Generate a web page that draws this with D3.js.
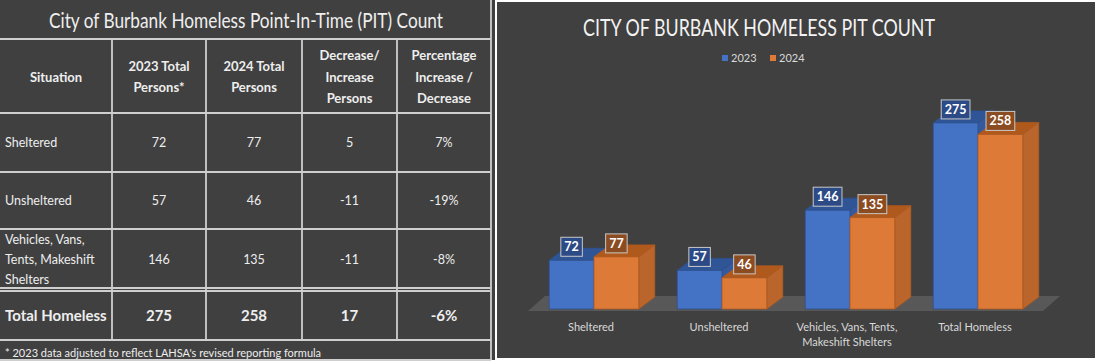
<!DOCTYPE html>
<html>
<head>
<meta charset="utf-8">
<script src="https://cdn.jsdelivr.net/npm/d3@7"></script>
<style>
  body { margin: 0; background: #fff; }
  svg { display: block; font-family: Lato, "Open Sans", sans-serif; }
</style>
</head>
<body>
<svg id="chart" width="1095" height="362"></svg>
<script>
// ---- data ----
var tableTitle = "City of Burbank Homeless Point-In-Time (PIT) Count";
var chartTitle = "CITY OF BURBANK HOMELESS PIT COUNT";
var headers = [["Situation"], ["2023 Total", "Persons*"], ["2024 Total", "Persons"],
               ["Decrease/", "Increase", "Persons"], ["Percentage", "Increase /", "Decrease"]];
var situations = [["Sheltered"], ["Unsheltered"], ["Vehicles, Vans,", "Tents, Makeshift", "Shelters"], ["Total Homeless"]];
var categories = [["Sheltered"], ["Unsheltered"], ["Vehicles, Vans, Tents,", "Makeshift Shelters"], ["Total Homeless"]];
var series = ["2023", "2024"];
var persons2023 = [72, 57, 146, 275];
var persons2024 = [77, 46, 135, 258];
var changePersons = ["5", "-11", "-11", "17"];
var changePct = ["7%", "-19%", "-8%", "-6%"];
var footnote = "* 2023 data adjusted to reflect LAHSA's revised reporting formula";

var svg = d3.select("#chart");
var bg = "#404040", grid = "#cfcfcf", txt = "#eeeeee";

// ---- left panel: table ----
var colEdges = [0, 112, 206, 302, 397, 491];

var table = svg.append("g").attr("class", "table");
table.append("rect").attr("x", 0).attr("y", 0).attr("width", 495).attr("height", 360).attr("fill", bg);

// horizontal rules
table.selectAll(".hline")
    .data([39, 113, 172, 229, 288, 291, 340, 360])
    .enter().append("line")
    .attr("x1", 0).attr("x2", 491)
    .attr("y1", function(d) { return d; }).attr("y2", function(d) { return d; })
    .attr("stroke", grid).attr("stroke-width", 1.8);
// vertical rules
table.selectAll(".vline")
    .data(colEdges.slice(1, 5))
    .enter().append("line")
    .attr("x1", function(d) { return d; }).attr("x2", function(d) { return d; })
    .attr("y1", 39).attr("y2", 340)
    .attr("stroke", grid).attr("stroke-width", 1.8);
table.append("line").attr("x1", 491).attr("x2", 491).attr("y1", 0).attr("y2", 360)
    .attr("stroke", grid).attr("stroke-width", 1.8);

// title squeezed to the width of the original (Calibri Light is narrow)
table.append("text")
    .attr("x", 246).attr("y", 28)
    .attr("text-anchor", "middle")
    .attr("textLength", 394).attr("lengthAdjust", "spacingAndGlyphs")
    .attr("fill", txt).style("font-size", "21px").style("font-weight", 400)
    .text(tableTitle);

function colCenter(c) { return (colEdges[c] + colEdges[c + 1]) / 2; }

function multiline(g, lines, x, cy, lh, size, weight, anchor) {
    var t = g.append("text")
        .attr("text-anchor", anchor)
        .attr("fill", txt)
        .style("font-size", size + "px")
        .style("font-weight", weight);
    lines.forEach(function(l, i) {
        t.append("tspan")
            .attr("x", x)
            .attr("y", cy - (lines.length - 1) * lh / 2 + i * lh + size * 0.35)
            .text(l);
    });
}

headers.forEach(function(h, c) {
    multiline(table, h, colCenter(c), 77, 21.5, 13, 700, "middle");
});

var rowCenters = [143, 201, 260, 316];
situations.forEach(function(s, r) {
    var total = r === situations.length - 1;
    var size = total ? 15 : 12.5, weight = total ? 700 : 400;
    multiline(table, s, 5, rowCenters[r], 20, size, weight, "start");
    var vals = [persons2023[r], persons2024[r], changePersons[r], changePct[r]];
    vals.forEach(function(v, c) {
        multiline(table, [String(v)], colCenter(c + 1), rowCenters[r], 20, size, weight, "middle");
    });
});

table.append("text")
    .attr("x", 5).attr("y", 357)
    .attr("fill", txt).style("font-size", "11px")
    .text(footnote);

// ---- right panel: 3D clustered column ----
var chart = svg.append("g").attr("class", "bars");
chart.append("rect").attr("x", 497).attr("y", 2).attr("width", 598).attr("height", 356).attr("fill", bg);

var base = 309, dx = 16, dy = 12;
var x0 = d3.scaleBand().domain(d3.range(categories.length)).range([530, 1042])
    .paddingInner(0.3).paddingOuter(0.15);
var x1 = d3.scaleBand().domain(series).range([0, x0.bandwidth()]);
var y = d3.scaleLinear().domain([0, 300]).range([base, 106]);

var colors = {
    "2023": { front: "#4472c4", top: "#2f5597", side: "#35599c", edge: "#2f528f", label: "#2c4a85" },
    "2024": { front: "#de7a37", top: "#b0591d", side: "#b9652b", edge: "#ae5a21", label: "#8c4c22" }
};

chart.append("text")
    .attr("x", 759).attr("y", 36)
    .attr("text-anchor", "middle")
    .attr("textLength", 352).attr("lengthAdjust", "spacingAndGlyphs")
    .attr("fill", "#f2f2f2").style("font-size", "24px").style("font-weight", 400)
    .text(chartTitle);

// legend
var legend = chart.selectAll(".legend")
    .data(series)
    .enter().append("g")
    .attr("transform", function(d, i) { return "translate(" + (722 + i * 48) + ",55)"; });
legend.append("rect").attr("width", 6).attr("height", 6)
    .attr("fill", function(d) { return colors[d].front; });
legend.append("text").attr("x", 9).attr("y", 6.5)
    .attr("fill", "#d9d9d9").style("font-size", "11px")
    .text(function(d) { return d; });

// floor
var fx0 = x0.range()[0] - 2, fx1 = x0.range()[1] + 1;
chart.append("polygon")
    .attr("points", [[fx0, base + 2], [fx1, base + 2], [fx1 + dx + 1, base - 13], [fx0 + dx + 1, base - 13]].join(" "))
    .attr("fill", "#585858");

var rows = categories.map(function(c, i) {
    return { i: i, values: [{ s: "2023", v: persons2023[i] }, { s: "2024", v: persons2024[i] }] };
});

var group = chart.selectAll(".cat")
    .data(rows)
    .enter().append("g")
    .attr("transform", function(d) { return "translate(" + x0(d.i) + ",0)"; });

var bar = group.selectAll(".bar")
    .data(function(d) { return d.values; })
    .enter().append("g");

var w = x1.bandwidth();
bar.append("polygon")   // top face
    .attr("points", function(d) {
        var x = x1(d.s), t = y(d.v);
        return [[x, t], [x + dx, t - dy], [x + w + dx, t - dy], [x + w, t]].join(" ");
    })
    .attr("fill", function(d) { return colors[d.s].top; })
    .attr("stroke", function(d) { return colors[d.s].edge; }).attr("stroke-width", 0.8);
bar.append("polygon")   // side face
    .attr("points", function(d) {
        var x = x1(d.s) + w, t = y(d.v);
        return [[x, t], [x + dx, t - dy], [x + dx, base - dy], [x, base]].join(" ");
    })
    .attr("fill", function(d) { return colors[d.s].side; })
    .attr("stroke", function(d) { return colors[d.s].edge; }).attr("stroke-width", 0.8);
bar.append("rect")      // front face
    .attr("x", function(d) { return x1(d.s); })
    .attr("y", function(d) { return y(d.v); })
    .attr("width", w)
    .attr("height", function(d) { return base - y(d.v); })
    .attr("fill", function(d) { return colors[d.s].front; })
    .attr("stroke", function(d) { return colors[d.s].edge; }).attr("stroke-width", 0.8);

// data labels
var lab = bar.append("g")
    .attr("transform", function(d) { return "translate(" + (x1(d.s) + w / 2) + "," + (y(d.v) - 13.5) + ")"; });
lab.append("rect").attr("class", "box");
lab.append("text")
    .attr("text-anchor", "middle").attr("y", 4.5)
    .attr("fill", "#ffffff").style("font-size", "12.5px").style("font-weight", 700)
    .text(function(d) { return d.v; });
lab.each(function(d) {
    var g = d3.select(this), tw = g.select("text").node().getComputedTextLength() + 7;
    g.select(".box")
        .attr("x", -tw / 2).attr("y", -9.5).attr("width", tw).attr("height", 19)
        .attr("fill", colors[d.s].label)
        .attr("stroke", "#c8c8c8").attr("stroke-width", 1);
});

// category labels
group.each(function(d) {
    var t = d3.select(this).append("text")
        .attr("text-anchor", "middle")
        .attr("fill", "#d9d9d9").style("font-size", "11px");
    categories[d.i].forEach(function(l, k) {
        t.append("tspan").attr("x", x0.bandwidth() / 2 - 3).attr("y", 331 + k * 15).text(l);
    });
});
</script>
</body>
</html>
